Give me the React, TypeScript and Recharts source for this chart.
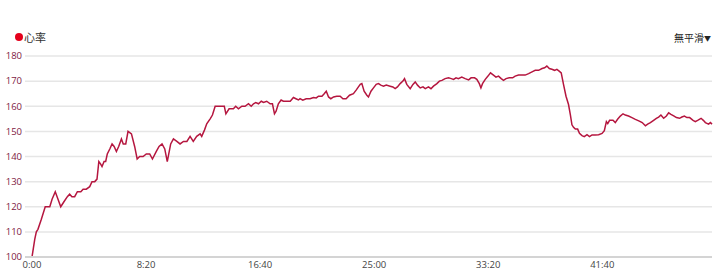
// Heart rate over time line chart
import { LineChart, Line, XAxis, YAxis, CartesianGrid } from "recharts";

// elapsed time in seconds
const seconds = [
  0, 12, 19, 26, 41, 58, 78, 88, 102, 114, 126, 140, 155, 165, 175, 187, 199,
  214, 224, 238, 253, 263, 275, 285, 293, 301, 307, 316, 323, 330, 341, 351,
  360, 370, 380, 392, 400, 411, 421, 436, 450, 461, 472, 487, 501, 516, 528,
  545, 557, 570, 582, 593, 608, 620, 635, 649, 664, 679, 693, 707, 722, 737,
  744, 756, 766, 781, 791, 803, 843, 850, 864, 883, 893, 905, 920, 934, 949,
  961, 971, 981, 993, 1005, 1015, 1029, 1044, 1054, 1063, 1070, 1080, 1092,
  1102, 1113, 1132, 1146, 1157, 1168, 1175, 1187, 1202, 1219, 1234, 1246,
  1256, 1271, 1281, 1290, 1300, 1310, 1322, 1336, 1351, 1363, 1377, 1392,
  1409, 1421, 1431, 1439, 1446, 1456, 1468, 1475, 1486, 1497, 1509, 1519,
  1529, 1541, 1553, 1570, 1582, 1592, 1602, 1614, 1626, 1633, 1643, 1658,
  1670, 1680, 1690, 1702, 1714, 1724, 1738, 1749, 1760, 1775, 1786, 1797,
  1811, 1826, 1838, 1848, 1859, 1869, 1884, 1899, 1914, 1925, 1940, 1950,
  1961, 1968, 1975, 1987, 1999, 2010, 2023, 2034, 2045, 2057, 2067, 2078,
  2092, 2107, 2118, 2133, 2148, 2162, 2177, 2192, 2206, 2221, 2236, 2247,
  2257, 2268, 2279, 2291, 2301, 2311, 2320, 2330, 2341, 2352, 2360, 2367,
  2374, 2382, 2392, 2400, 2411, 2421, 2433, 2444, 2455, 2469, 2484, 2499,
  2509, 2518, 2524, 2532, 2547, 2557, 2567, 2579, 2591, 2601, 2615, 2630,
  2645, 2660, 2675, 2689, 2699, 2711, 2725, 2737, 2747, 2757, 2769, 2781,
  2791, 2801, 2815, 2825, 2839, 2849, 2860, 2871, 2883, 2898, 2908, 2918,
  2933, 2943, 2952, 2966, 2974, 2981,
];

// heart rate, bpm
const heartRate = [
  100, 107, 110, 111, 115, 120, 120, 123, 126, 123, 120, 122, 124, 125, 124,
  124, 126, 126, 127, 127, 128, 130, 130, 131, 138, 137, 136, 138, 138, 141,
  143, 145, 144, 142, 144, 147, 145, 145, 150, 149, 144, 139, 140, 140, 141,
  141, 139, 142, 144, 145, 143, 138, 145, 147, 146, 145, 146, 146, 148, 146,
  148, 149, 148, 150.5, 153, 155, 156.5, 160, 160, 157, 159, 159, 160, 159,
  160, 160, 161, 160, 161, 161.5, 161, 162, 161.5, 162, 161, 161, 157, 158,
  161, 162.5, 162, 162, 162, 163.5, 163, 162.5, 163, 162.4, 163, 163, 163.5,
  163.3, 164, 164, 165, 166, 163.7, 163, 163.7, 164, 164, 163, 163, 164.4,
  165, 166.4, 167.7, 168.7, 169, 166, 164.4, 163.7, 166, 167.3, 168.7, 169,
  168.4, 168, 168.4, 168, 167.7, 167, 167.7, 169, 170, 171, 168.7, 167, 168.7,
  169.7, 168.4, 167.3, 167.7, 167, 167.7, 167, 168, 169, 170, 170.3, 171,
  171.3, 171, 170.7, 171.3, 171, 171.6, 171, 170.5, 171.3, 171.3, 170.7, 169,
  167.3, 169, 170.7, 172, 173.3, 172.4, 171.6, 172, 171, 170.3, 171, 171.3,
  171.3, 172, 172.4, 172.4, 172.4, 173, 173.7, 174.3, 174.3, 175, 175.3, 176,
  175, 174.7, 174.3, 174.7, 174, 173.3, 168.7, 164, 160.7, 156.7, 152.6, 151.6,
  150.9, 150.9, 149.2, 148.3, 147.9, 148.7, 147.9, 148.6, 148.6, 148.7, 149.2,
  150.3, 153.9, 153.1, 154.4, 154.4, 153.5, 154.8, 156.1, 157, 156.5, 156.1,
  155.5, 154.8, 154.2, 153.5, 152.2, 152.9, 153.5, 154.4, 155.2, 155.7, 156.5,
  155.2, 156.1, 157.4, 156.8, 156.1, 155.5, 155.2, 155.7, 156.1, 155.5, 155.5,
  154.4, 153.9, 154.4, 155.2, 154.4, 153.5, 152.9, 153.5, 152.9,
];

const xTicks = [0, 500, 1000, 1500, 2000, 2500];
const yTicks = [100, 110, 120, 130, 140, 150, 160, 170, 180];

const data = seconds.map((t, i) => ({ t, hr: heartRate[i] }));

const fmtTime = (s: number) =>
  `${Math.floor(s / 60)}:${String(s % 60).padStart(2, "0")}`;

export default function App() {
  return (
    <div
      style={{
        position: "absolute",
        left: 0,
        top: 0,
        width: 720,
        height: 279,
        background: "#fff",
        fontFamily: "'Noto Sans CJK SC', 'Noto Sans', sans-serif",
      }}
    >
      <div
        style={{
          position: "absolute",
          left: 15,
          top: 30,
          display: "flex",
          alignItems: "center",
          fontSize: 11,
          color: "#333",
          lineHeight: "14px",
        }}
      >
        <span
          style={{
            width: 8,
            height: 8,
            borderRadius: "50%",
            background: "#e4001b",
            display: "inline-block",
            marginRight: 1,
          }}
        />
        心率
      </div>
      <div
        style={{
          position: "absolute",
          right: 9,
          top: 31,
          fontSize: 10,
          color: "#222",
          lineHeight: "14px",
        }}
      >
        無平滑<span style={{ fontSize: 7, verticalAlign: "1px" }}>▼</span>
      </div>
      <LineChart
        width={720}
        height={279}
        data={data}
        margin={{ top: 56, right: 8, bottom: 0, left: 0 }}
      >
        <CartesianGrid vertical={false} stroke="#e6e6e6" strokeWidth={1.5} />
        <XAxis
          dataKey="t"
          type="number"
          domain={[0, 2981]}
          ticks={xTicks}
          tickFormatter={fmtTime}
          padding={{ left: 7, right: 0 }}
          height={22}
          tickSize={0}
          tickMargin={4}
          axisLine={{ stroke: "#d4d4d4", strokeWidth: 2 }}
          tick={{ fontSize: 9.5, fill: "#444", fontFamily: "'Open Sans', sans-serif" }}
        />
        <YAxis
          domain={[100, 180]}
          ticks={yTicks}
          width={25}
          tickSize={0}
          tickMargin={3}
          axisLine={false}
          tickLine={false}
          tick={{ fontSize: 9.5, fill: "#7e1a43", fontFamily: "'Open Sans', sans-serif" }}
        />
        <Line
          type="linear"
          dataKey="hr"
          stroke="#b5163f"
          strokeWidth={1.5}
          dot={false}
          isAnimationActive={false}
        />
      </LineChart>
    </div>
  );
}
